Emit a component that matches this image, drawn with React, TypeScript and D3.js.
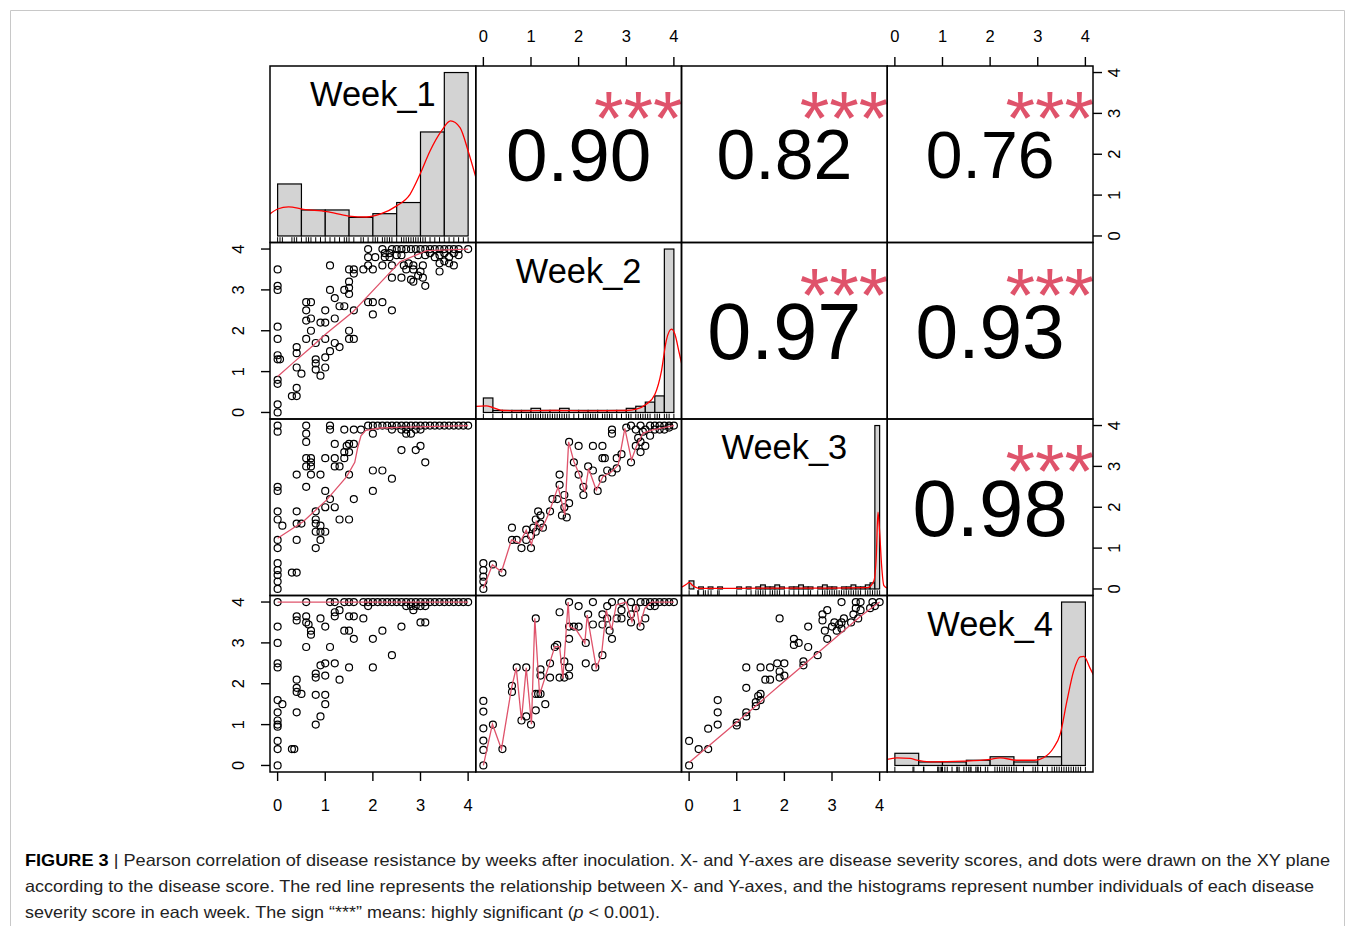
import React from 'react'
import * as d3 from 'd3'

const weeks = ['Week_1', 'Week_2', 'Week_3', 'Week_4']
const tickValues = [0, 1, 2, 3, 4]

// upper panels: pearson r, row/col of the matrix
const corrs = [
  {row: 0, col: 1, r: 0.9, label: '0.90'},
  {row: 0, col: 2, r: 0.82, label: '0.82'},
  {row: 0, col: 3, r: 0.76, label: '0.76'},
  {row: 1, col: 2, r: 0.97, label: '0.97'},
  {row: 1, col: 3, r: 0.93, label: '0.93'},
  {row: 2, col: 3, r: 0.98, label: '0.98'}
]
const signif = '***'

// histogram bin widths and counts per week
const binWidths = [0.5, 0.2, 0.1, 0.5]
const hist1 = [14, 7, 7, 5, 6, 9, 28, 44]
const hist2 = [7, 1, 1, 1, 1, 2, 1, 1, 2, 1, 1, 1, 1, 1, 1, 2, 3, 5, 8, 79]
const hist3 = [
  4, 0, 1, 0, 1, 0, 1, 0, 0, 0, 1, 0, 1, 0, 1, 2, 1, 1, 2, 1,
  0, 1, 1, 2, 1, 1, 0, 1, 2, 1, 1, 0, 1, 1, 2, 1, 1, 2, 3, 81
]
const hist4 = [7, 2, 2, 3, 5, 2, 5, 94]

// density curves, y relative to the tallest bar
const dens1 = [[-0.17, 0.133], [0, 0.165], [0.23, 0.178], [0.54, 0.163], [1.03, 0.149], [1.49, 0.122], [1.87, 0.116], [2.15, 0.133], [2.5, 0.184], [2.78, 0.255], [2.99, 0.378], [3.2, 0.52], [3.44, 0.643], [3.63, 0.704], [3.83, 0.663], [4.0, 0.52], [4.17, 0.35]]
const dens2 = [[-0.16, 0.037], [0.06, 0.04], [0.2, 0.03], [0.41, 0.012], [0.8, 0.01], [1.5, 0.012], [2.2, 0.01], [3.0, 0.012], [3.21, 0.02], [3.42, 0.05], [3.6, 0.11], [3.74, 0.255], [3.84, 0.44], [3.95, 0.51], [4.02, 0.48], [4.11, 0.367], [4.17, 0.29]]
const dens3 = [[-0.16, 0.01], [-0.05, 0.03], [0, 0.04], [0.08, 0.02], [0.2, 0.004], [1, 0.004], [2, 0.005], [3, 0.005], [3.75, 0.008], [3.88, 0.05], [3.93, 0.2], [3.965, 0.47], [4.0, 0.35], [4.04, 0.15], [4.09, 0.02], [4.17, 0.004]]
const dens4 = [[-0.17, 0.037], [0.04, 0.047], [0.32, 0.043], [0.46, 0.032], [0.74, 0.022], [1.44, 0.026], [2.0, 0.037], [2.21, 0.047], [2.56, 0.032], [2.94, 0.032], [3.12, 0.047], [3.33, 0.107], [3.47, 0.19], [3.61, 0.39], [3.75, 0.574], [3.89, 0.665], [3.97, 0.668], [4.1, 0.594], [4.17, 0.554]]

// scatter panels: [x, y]
const p21 = [
  [1.9, 4], [2.2, 4], [2.4, 4], [2.5, 4], [2.6, 4], [2.7, 4], [2.8, 4], [2.9, 4], [3, 4], [3.1, 4], [3.2, 4], [3.3, 4], [3.4, 4], [3.5, 4], [3.6, 4], [3.7, 4], [3.8, 4], [4, 4],
  [1.9, 3.8], [2.05, 3.8], [2.25, 3.9], [2.25, 3.8], [2.35, 3.9], [2.35, 3.8], [2.5, 3.85], [2.6, 3.85], [2.95, 3.85], [3.1, 3.85], [3.2, 3.9], [3.3, 3.8], [3.4, 3.85], [3.5, 3.9], [3.6, 3.8], [3.7, 3.9], [3.8, 3.85],
  [1.9, 3.6], [2.2, 3.6], [2.4, 3.6], [2.65, 3.6], [2.75, 3.65], [2.85, 3.6], [3.05, 3.6], [3.4, 3.65], [3.5, 3.7], [3.6, 3.65], [3.7, 3.6],
  [1.1, 3.6], [1.5, 3.5], [1.6, 3.5], [1.6, 3.4], [1.8, 3.5], [2.0, 3.5], [2.7, 3.5], [2.85, 3.5], [3.0, 3.45], [3.4, 3.45],
  [2.4, 3.3], [2.6, 3.3], [2.8, 3.25], [2.95, 3.35], [3.05, 3.3], [1.5, 3.2], [2.85, 3.2], [3.1, 3.1],
  [1.1, 3.0], [1.4, 3.0], [1.5, 2.9], [1.5, 3.05], [1.2, 2.8],
  [0.6, 2.7], [0.7, 2.7], [1.3, 2.6], [1.4, 2.6], [1.9, 2.7], [2.0, 2.7], [2.2, 2.7],
  [0.6, 2.5], [1.0, 2.5], [1.6, 2.5], [2.0, 2.4], [2.4, 2.5],
  [0.6, 2.25], [0.7, 2.3], [0.9, 2.2], [1.0, 2.2], [1.2, 2.3],
  [0.7, 2.0], [1.0, 1.8], [1.5, 2.0], [1.5, 1.8], [1.6, 1.8], [0.6, 1.8],
  [0.4, 1.6], [0.8, 1.7], [1.2, 1.7], [1.3, 1.6], [0.4, 1.45], [1.1, 1.5],
  [0.05, 1.3], [0.8, 1.3], [1.0, 1.35], [0.8, 1.2],
  [0.4, 1.1], [0.5, 0.95], [0.8, 1.05], [0.9, 0.9], [1.0, 1.1], [0.4, 0.6], [0.3, 0.4], [0.4, 0.4],
  [0, 3.5], [0, 3.1], [0, 3.0], [0, 2.1], [0, 1.8], [0, 1.4], [0, 1.3], [0, 0.8], [0, 0.7], [0, 0.2], [0, 0]
]
const p31 = [
  [0, 4], [0.6, 4], [1.1, 4], [1.9, 4], [2.0, 4], [2.1, 4], [2.2, 4], [2.3, 4], [2.4, 4], [2.5, 4], [2.6, 4], [2.7, 4], [2.8, 4], [2.9, 4], [3.0, 4], [3.1, 4], [3.2, 4], [3.3, 4], [3.4, 4], [3.5, 4], [3.6, 4], [3.7, 4], [3.8, 4], [3.9, 4], [4, 4],
  [0, 3.85], [1.1, 3.9], [1.4, 3.9], [1.6, 3.9], [1.75, 3.9], [2.4, 3.9], [2.6, 3.9], [2.7, 3.9], [2.9, 3.9], [3.0, 3.9],
  [2.0, 3.8], [2.7, 3.8], [2.8, 3.8], [0.6, 3.8], [0.6, 3.6],
  [1.2, 3.55], [1.5, 3.55], [1.6, 3.55], [1.45, 3.5], [2.6, 3.4], [2.9, 3.4], [3.0, 3.5], [1.4, 3.35], [1.5, 3.35],
  [0.6, 3.2], [0.7, 3.2], [1.0, 3.2], [1.2, 3.2], [1.4, 3.2], [3.1, 3.1], [0.7, 3.1],
  [0.6, 3.0], [0.7, 3.0], [1.2, 3.0], [1.3, 3.0], [2.0, 2.9], [2.2, 2.9],
  [0.4, 2.8], [0.7, 2.8], [0.9, 2.8], [1.5, 2.8], [2.4, 2.7],
  [0, 2.5], [0.6, 2.5], [0, 2.4], [1.0, 2.4], [2.0, 2.4], [1.1, 2.2], [1.6, 2.2], [1.0, 2.0], [1.2, 2.0],
  [0, 1.9], [0.4, 1.9], [0.8, 1.9], [0, 1.7], [0.8, 1.7], [1.3, 1.7], [1.5, 1.7],
  [0.1, 1.55], [0.4, 1.6], [0.5, 1.6], [0.8, 1.6], [0.9, 1.55], [0.8, 1.4], [0.9, 1.4], [1.0, 1.4],
  [0, 1.2], [0.4, 1.2], [0.9, 1.2], [0, 1.0], [0.8, 1.0],
  [0, 0.63], [0, 0.46], [0, 0.34], [0, 0.18], [0, 0], [0.3, 0.4], [0.4, 0.4]
]
const p41 = [
  [0, 4], [0.6, 4], [1.1, 4], [1.2, 4], [1.4, 4], [1.5, 4], [1.6, 4], [1.8, 4], [1.9, 4], [2.0, 4], [2.1, 4], [2.2, 4], [2.3, 4], [2.4, 4], [2.5, 4], [2.6, 4], [2.7, 4], [2.8, 4], [2.9, 4], [3.0, 4], [3.1, 4], [3.2, 4], [3.3, 4], [3.4, 4], [3.5, 4], [3.6, 4], [3.7, 4], [3.8, 4], [3.9, 4], [4, 4],
  [1.9, 3.9], [2.7, 3.9], [2.8, 3.9], [2.9, 3.9], [3.0, 3.9], [3.1, 3.9], [1.3, 3.8], [2.85, 3.8], [1.2, 3.75],
  [0.4, 3.65], [0.6, 3.65], [1.2, 3.65], [1.5, 3.65], [1.6, 3.65], [0.9, 3.6], [1.8, 3.6], [0.4, 3.55],
  [0.6, 3.5], [0.65, 3.45], [3.0, 3.5], [3.1, 3.5], [0, 3.4], [1.0, 3.4], [2.6, 3.4],
  [0.7, 3.3], [1.4, 3.3], [1.5, 3.3], [2.2, 3.3], [0.7, 3.2], [1.6, 3.1], [2.0, 3.1], [0, 3.0], [0.6, 2.9], [1.1, 2.9], [2.4, 2.7],
  [0, 2.5], [0, 2.4], [0.9, 2.45], [1.0, 2.5], [1.2, 2.5], [1.5, 2.4], [2.0, 2.4],
  [0.8, 2.25], [0.8, 2.15], [1.0, 2.2], [1.3, 2.1], [0.4, 2.1], [0.4, 1.9], [0.4, 1.8],
  [0.5, 1.75], [0.8, 1.73], [1.0, 1.73], [0, 1.6], [0.1, 1.5], [1.0, 1.5], [0, 1.3], [0.4, 1.3], [0.9, 1.2],
  [0, 1.1], [0, 1.0], [0, 0.95], [0.8, 1.0], [0, 0.6], [0, 0.4], [0.3, 0.4], [0.35, 0.4], [0, 0]
]
const p32 = [
  [0, 0], [0, 0.63], [0, 0.46], [0, 0.3], [0, 0.18], [0.2, 0.6], [0.4, 0.4],
  [0.6, 1.5], [0.6, 1.2], [0.7, 1.2], [0.8, 1.0], [1.0, 1.0], [0.9, 1.2], [0.9, 1.45], [1.0, 1.3], [1.05, 1.5], [1.1, 1.4], [1.1, 1.7], [1.15, 1.9], [1.2, 1.6], [1.2, 1.8], [1.25, 1.5],
  [1.4, 1.9], [1.45, 2.2], [1.55, 2.2], [1.6, 2.8], [1.6, 2.55], [1.7, 2.3], [1.7, 2.0], [1.75, 1.75], [1.8, 2.1], [1.65, 1.8],
  [1.8, 3.6], [1.9, 3.1], [2.0, 3.5], [2.0, 2.8], [2.1, 2.5], [2.1, 2.3], [2.2, 3.0], [2.3, 3.5], [2.5, 3.5], [2.3, 2.9], [2.4, 2.4],
  [2.5, 3.2], [2.55, 3.2], [2.5, 2.7], [2.6, 2.9], [2.7, 2.85], [2.8, 2.95], [2.7, 3.9], [2.7, 3.8], [2.8, 3.2], [2.9, 3.3], [3.0, 3.95], [3.1, 4], [3.1, 3.1],
  [3.2, 3.5], [3.25, 3.7], [3.3, 3.6], [3.35, 3.85], [3.4, 3.5], [3.5, 3.75], [3.2, 3.9], [3.3, 4], [3.4, 3.9], [3.3, 3.35],
  [3.5, 4], [3.6, 4], [3.7, 4], [3.8, 4], [3.9, 4], [4, 4], [3.6, 3.9], [3.7, 3.9], [3.8, 3.9], [3.9, 3.95]
]
const p42 = [
  [0, 0], [0, 1.58], [0, 1.32], [0, 0.91], [0, 0.61], [0, 0.38], [0.2, 1.0], [0.4, 0.4],
  [0.6, 1.95], [0.6, 1.8], [0.7, 2.4], [0.9, 2.4], [0.8, 1.1], [0.9, 1.2], [1.0, 1.0],
  [1.1, 3.6], [1.1, 1.75], [1.15, 1.75], [1.2, 1.75], [1.1, 1.35], [1.2, 2.35], [1.2, 2.2], [1.3, 1.5],
  [1.4, 2.5], [1.4, 2.15], [1.5, 2.9], [1.55, 2.95], [1.6, 3.75], [1.6, 2.15], [1.7, 2.15], [1.7, 2.55], [1.8, 2.4], [1.8, 2.2],
  [1.8, 4], [2.0, 3.9], [2.3, 4], [1.8, 3.4], [1.8, 3.1], [1.9, 3.4], [2.0, 3.4], [2.15, 3.0], [2.2, 3.7], [2.15, 2.5], [2.3, 3.45], [2.35, 2.4],
  [2.5, 2.7], [2.5, 3.45], [2.5, 3.7], [2.6, 3.9], [2.6, 3.6], [2.65, 3.3], [2.7, 3.1], [2.7, 4], [2.8, 3.6], [2.9, 3.8], [2.9, 3.6], [2.9, 4],
  [3.1, 3.7], [3.1, 4], [3.1, 3.5], [3.2, 3.85], [3.3, 3.4], [3.4, 3.6], [3.3, 4], [3.4, 4], [3.5, 4], [3.6, 4], [3.7, 4], [3.8, 4], [3.9, 4], [4, 4], [3.5, 3.9], [3.6, 3.9]
]
const p43 = [
  [0, 0], [0, 0.6], [0.2, 0.4], [0.4, 0.4], [0.4, 0.9], [0.6, 1.6], [0.6, 1.3], [0.6, 1.0], [1.0, 1.05], [1.0, 0.98],
  [1.2, 1.3], [1.2, 1.2], [1.2, 2.4], [1.2, 1.9], [1.4, 1.55], [1.45, 1.7], [1.5, 1.6], [1.4, 1.45], [1.5, 1.75], [1.5, 2.4],
  [1.6, 2.1], [1.7, 2.1], [1.7, 2.4], [1.85, 2.5], [1.9, 2.15], [1.9, 2.3], [2.0, 2.2], [2.0, 2.5], [1.9, 3.6],
  [2.2, 3.1], [2.2, 2.95], [2.3, 3.0], [2.4, 2.45], [2.4, 2.55], [2.5, 3.4], [2.5, 2.9], [2.7, 2.7],
  [2.8, 3.7], [2.8, 3.55], [2.85, 3.3], [2.9, 3.1], [2.9, 3.8], [3.0, 3.4], [3.05, 3.5], [3.1, 3.3], [3.15, 3.45], [3.2, 3.5], [3.2, 3.35], [3.25, 3.6], [3.2, 4],
  [3.4, 3.5], [3.45, 3.7], [3.5, 3.85], [3.5, 4], [3.55, 3.6], [3.6, 3.8], [3.6, 4], [3.8, 3.85], [3.85, 4], [3.9, 3.9], [4, 4]
]

// red smoothing lines (lowess) per scatter panel
const s21 = [[0, 0.88], [0.33, 1.22], [0.68, 1.57], [1.03, 1.94], [1.59, 2.47], [2.08, 3.08], [2.57, 3.69], [3.13, 3.96], [4, 4]]
const s31 = [[0, 1.24], [0.54, 1.65], [1.03, 2.18], [1.45, 2.75], [1.62, 3.1], [1.68, 3.45], [1.75, 3.75], [1.85, 3.88], [2.15, 3.94], [2.7, 3.96], [4, 4]]
const s41 = [[0, 4], [4, 4]]
const s32 = [[0, 0.02], [0.19, 0.59], [0.38, 0.42], [0.59, 1.2], [0.76, 1.12], [0.9, 1.44], [1.01, 1.08], [1.11, 1.65], [1.22, 1.44], [1.36, 1.81], [1.57, 2.5], [1.71, 1.81], [1.79, 3.6], [1.9, 3.12], [2.02, 2.79], [2.13, 2.37], [2.21, 2.95], [2.37, 2.42], [2.51, 2.75], [2.69, 2.87], [2.83, 3.03], [2.97, 3.93], [3.11, 3.16], [3.21, 3.48], [3.35, 3.81], [3.53, 3.89], [4, 4]]
const s42 = [[0, 0], [0.19, 1.01], [0.38, 0.4], [0.59, 1.89], [0.69, 2.39], [0.8, 1.11], [0.9, 2.39], [1.01, 1.01], [1.08, 3.6], [1.18, 1.73], [1.39, 2.5], [1.5, 2.91], [1.6, 2.91], [1.67, 2.13], [1.78, 4.0], [1.81, 3.4], [1.95, 3.32], [2.13, 2.99], [2.18, 3.68], [2.37, 2.39], [2.48, 2.7], [2.58, 3.8], [2.69, 3.32], [2.79, 3.93], [3.0, 4.0], [3.12, 3.52], [3.21, 3.93], [3.28, 3.4], [3.39, 3.85], [3.53, 4.0], [4, 4]]
const s43 = [[0, 0.07], [1, 1.06], [2, 2.06], [3, 3.05], [3.6, 3.65], [4, 4]]

const scatters = [
  {row: 1, col: 0, pts: p21, smooth: s21},
  {row: 2, col: 0, pts: p31, smooth: s31},
  {row: 3, col: 0, pts: p41, smooth: s41},
  {row: 2, col: 1, pts: p32, smooth: s32},
  {row: 3, col: 1, pts: p42, smooth: s42},
  {row: 3, col: 2, pts: p43, smooth: s43}
]
const hists = [hist1, hist2, hist3, hist4]
const denss = [dens1, dens2, dens3, dens4]

const captionLine1 = ' | Pearson correlation of disease resistance by weeks after inoculation. X- and Y-axes are disease severity scores, and dots were drawn on the XY plane'
const captionLine2 = 'according to the disease score. The red line represents the relationship between X- and Y-axes, and the histograms represent number individuals of each disease'
const captionLine3a = 'severity score in each week. The sign \u201c***\u201d means: highly significant ('
const captionLine3b = ' < 0.001).'

const gridLeft = 270
const gridTop = 66
const cellW = 205.75
const cellH = 176.5
const domain = [-0.16, 4.16]
const smoothCol = '#DF536B'
const font = 'Liberation Sans, Arial, Helvetica, sans-serif'

function xScale(col) {
  return d3.scaleLinear().domain(domain).range([gridLeft + col * cellW, gridLeft + (col + 1) * cellW])
}
function yScale(row) {
  return d3.scaleLinear().domain(domain).range([gridTop + (row + 1) * cellH, gridTop + row * cellH])
}

// rug values for each week, collected from the scatter panels
function weekValues(k) {
  const vals = []
  scatters.forEach(s => {
    if (s.col === k) s.pts.forEach(p => vals.push(p[0]))
    if (s.row === k) s.pts.forEach(p => vals.push(p[1]))
  })
  return Array.from(new Set(vals)).sort((a, b) => a - b)
}

export default function App() {
  const cells = d3.range(4)

  return (
    <svg width={1355} height={926} style={{position: 'absolute', left: 0, top: 0, background: '#fff'}} fontFamily={font}>
      <defs>
        {cells.map(i => cells.map(j => (
          <clipPath id={`clip-${i}-${j}`} key={`c${i}${j}`}>
            <rect x={gridLeft + j * cellW} y={gridTop + i * cellH} width={cellW} height={cellH} />
          </clipPath>
        )))}
      </defs>
      <rect x={0} y={0} width={1355} height={926} fill="#fff" />
      <path d="M10.5,940 V10.5 H1344.5 V940" fill="none" stroke="#c8c8c8" strokeWidth={1} />

      {/* diagonal: histograms, density, rug, names */}
      {cells.map(k => {
        const x = xScale(k)
        const bottom = gridTop + (k + 1) * cellH
        const top = gridTop + k * cellH
        const yRel = d3.scaleLinear().domain([-0.04, 1.04]).range([bottom, top])
        const counts = hists[k]
        const maxC = d3.max(counts)
        const bw = binWidths[k]
        const line = d3.line().x(d => x(d[0])).y(d => yRel(d[1])).curve(d3.curveMonotoneX)
        const rug = weekValues(k)
        return (
          <g key={`d${k}`}>
            <g clipPath={`url(#clip-${k}-${k})`}>
              {counts.map((c, b) => (
                <rect key={b} x={x(b * bw)} width={x((b + 1) * bw) - x(b * bw)} y={yRel(c / maxC)} height={yRel(0) - yRel(c / maxC)}
                  fill="#D3D3D3" stroke="#000" strokeWidth={1.2} />
              ))}
              <path d={line(denss[k])} fill="none" stroke="#FF0000" strokeWidth={1.3} />
              {rug.map((v, r) => (
                <line key={r} x1={x(v)} x2={x(v)} y1={bottom} y2={bottom - 5.3} stroke="#000" strokeWidth={1} />
              ))}
            </g>
            <text x={x(2)} y={top + 40} fontSize={34.4} textAnchor="middle" fill="#000">{weeks[k]}</text>
          </g>
        )
      })}

      {/* lower panels: points and smoothing line */}
      {scatters.map(s => {
        const x = xScale(s.col)
        const y = yScale(s.row)
        const line = d3.line().x(d => x(d[0])).y(d => y(d[1]))
        return (
          <g key={`s${s.row}${s.col}`} clipPath={`url(#clip-${s.row}-${s.col})`}>
            {s.pts.map((p, i) => (
              <circle key={i} cx={x(p[0])} cy={y(p[1])} r={3.5} fill="none" stroke="#000" strokeWidth={1.2} />
            ))}
            <path d={line(s.smooth)} fill="none" stroke={smoothCol} strokeWidth={1.3} />
          </g>
        )
      })}

      {/* upper panels: correlation and stars */}
      {corrs.map(c => {
        const left = gridLeft + c.col * cellW
        const top = gridTop + c.row * cellH
        const size = 81 * (c.r + 0.3) / 1.3
        return (
          <g key={`u${c.row}${c.col}`}>
            <text x={left + cellW / 2} y={top + cellH / 2 + 0.358 * size} fontSize={size} textAnchor="middle" fill="#000">{c.label}</text>
            <g clipPath={`url(#clip-${c.row}-${c.col})`}>
              <text x={left + 0.79 * cellW} y={top + 78} fontSize={76} textAnchor="middle" fill={smoothCol}>{signif}</text>
            </g>
          </g>
        )
      })}

      {/* panel boxes */}
      {cells.map(i => cells.map(j => (
        <rect key={`b${i}${j}`} x={gridLeft + j * cellW} y={gridTop + i * cellH} width={cellW} height={cellH}
          fill="none" stroke="#000" strokeWidth={1.5} />
      )))}

      {/* axes: x at top for even columns, bottom for odd; y at left for rows 2,4 and right for rows 1,3 */}
      {cells.map(j => {
        const x = xScale(j)
        const isTop = j % 2 === 1
        const edge = isTop ? gridTop : gridTop + 4 * cellH
        const dir = isTop ? -1 : 1
        return (
          <g key={`xa${j}`}>
            {tickValues.map(t => (
              <g key={t}>
                <line x1={x(t)} x2={x(t)} y1={edge} y2={edge + dir * 9} stroke="#000" strokeWidth={1.4} />
                <text x={x(t)} y={isTop ? 42 : 811} fontSize={16.5} textAnchor="middle" fill="#000">{t}</text>
              </g>
            ))}
          </g>
        )
      })}
      {cells.map(i => {
        const y = yScale(i)
        const isRight = i % 2 === 0
        const edge = isRight ? gridLeft + 4 * cellW : gridLeft
        const dir = isRight ? 1 : -1
        const labelX = isRight ? 1120 : 244
        return (
          <g key={`ya${i}`}>
            {tickValues.map(t => (
              <g key={t}>
                <line x1={edge} x2={edge + dir * 9} y1={y(t)} y2={y(t)} stroke="#000" strokeWidth={1.4} />
                <text transform={`translate(${labelX},${y(t)}) rotate(-90)`} fontSize={16.5} textAnchor="middle" fill="#000">{t}</text>
              </g>
            ))}
          </g>
        )
      })}

      {/* caption */}
      <g fontSize={16.5} fill="#222">
        <text x={25} y={866} textLength={1305} lengthAdjust="spacingAndGlyphs">
          <tspan fontWeight="bold" fill="#000">FIGURE 3</tspan>{captionLine1}
        </text>
        <text x={25} y={892} textLength={1289} lengthAdjust="spacingAndGlyphs">{captionLine2}</text>
        <text x={25} y={918} textLength={635} lengthAdjust="spacingAndGlyphs">
          {captionLine3a}<tspan fontStyle="italic">p</tspan>{captionLine3b}
        </text>
      </g>
    </svg>
  )
}
